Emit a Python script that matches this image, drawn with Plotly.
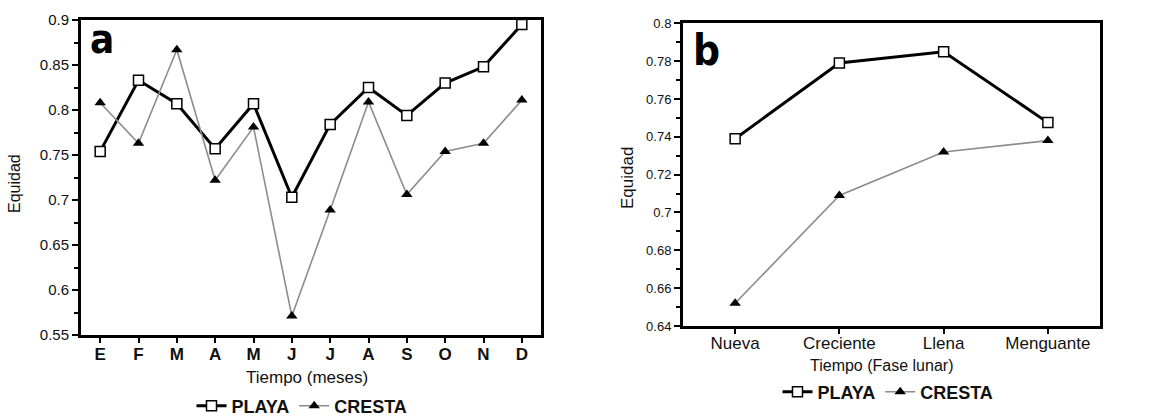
import plotly.graph_objects as go

# ---- data ----
MESES = ["E", "F", "M", "A", "M", "J", "J", "A", "S", "O", "N", "D"]
PLAYA_MES = [0.754, 0.833, 0.807, 0.757, 0.807, 0.703, 0.784, 0.825, 0.794, 0.830, 0.848, 0.895]
CRESTA_MES = [0.808, 0.763, 0.867, 0.722, 0.781, 0.571, 0.689, 0.809, 0.706, 0.754, 0.763, 0.811]

FASES = ["Nueva", "Creciente", "Llena", "Menguante"]
PLAYA_FASE = [0.739, 0.779, 0.785, 0.7475]
CRESTA_FASE = [0.652, 0.709, 0.732, 0.738]

W, H = 1158, 417
FONT = "Liberation Sans, Arial, sans-serif"
NARROW = "DejaVu Sans Condensed, Liberation Sans Narrow, Arial Narrow, sans-serif"


def px_x(x):
    return x / W


def px_y(y):
    return 1 - y / H


fig = go.Figure()

playa_line = dict(color="black", width=3)
playa_marker = dict(symbol="square", size=10, color="white", line=dict(color="black", width=1.5))
cresta_line = dict(color="#8c8c8c", width=1.6)
cresta_marker = dict(symbol="triangle-up", size=10, color="black", line=dict(width=0))

# panel a: monthly
xi = list(range(len(MESES)))
fig.add_trace(go.Scatter(x=xi, y=PLAYA_MES, mode="lines+markers", name="PLAYA",
                         line=playa_line, marker=playa_marker,
                         xaxis="x", yaxis="y", legend="legend"))
fig.add_trace(go.Scatter(x=xi, y=CRESTA_MES, mode="lines+markers", name="CRESTA",
                         line=cresta_line, marker=cresta_marker,
                         xaxis="x", yaxis="y", legend="legend"))

# panel b: lunar phase
xf = list(range(len(FASES)))
fig.add_trace(go.Scatter(x=xf, y=PLAYA_FASE, mode="lines+markers", name="PLAYA",
                         line=playa_line, marker=playa_marker,
                         xaxis="x2", yaxis="y2", legend="legend2"))
fig.add_trace(go.Scatter(x=xf, y=CRESTA_FASE, mode="lines+markers", name="CRESTA",
                         line=cresta_line, marker=cresta_marker,
                         xaxis="x2", yaxis="y2", legend="legend2"))

axis_common = dict(showline=True, linewidth=3, linecolor="black", mirror=True,
                   showgrid=False, zeroline=False, ticks="outside", tickcolor="black",
                   tickwidth=1.5, automargin=False)

legend_common = dict(orientation="h", xanchor="center", yanchor="middle",
                     font=dict(size=18, family=FONT, weight="bold", color="#111111"),
                     bgcolor="rgba(0,0,0,0)", itemwidth=30, tracegroupgap=0)

fig.update_layout(
    width=W, height=H,
    margin=dict(l=0, r=0, t=0, b=0, autoexpand=False),
    paper_bgcolor="white", plot_bgcolor="white",
    font=dict(family=FONT, color="#111111"),
    xaxis=dict(axis_common, domain=[px_x(81), px_x(541)], range=[-0.5, 11.5],
               tickvals=xi, ticktext=MESES, ticklen=5, ticklabelstandoff=-3,
               tickfont=dict(size=17, family=FONT, weight="bold", color="#111111"),
               anchor="y"),
    yaxis=dict(axis_common, domain=[px_y(335), px_y(20)], range=[0.55, 0.9],
               dtick=0.05, tick0=0.55, ticklen=6,
               minor=dict(ticks="outside", ticklen=4, dtick=0.025, tick0=0.55,
                          tickcolor="black", tickwidth=1.5, showgrid=False),
               tickfont=dict(size=15, family=FONT, color="#111111"),
               anchor="x"),
    xaxis2=dict(axis_common, domain=[px_x(683), px_x(1100)], range=[-0.5, 3.5],
                tickvals=xf, ticktext=FASES, ticklen=5, ticklabelstandoff=-5,
                tickfont=dict(size=17, family=FONT, color="#111111"),
                anchor="y2"),
    yaxis2=dict(axis_common, domain=[px_y(326), px_y(23.3)], range=[0.64, 0.8],
                dtick=0.02, tick0=0.64, ticklen=6,
                minor=dict(ticks="outside", ticklen=4, dtick=0.01, tick0=0.64,
                           tickcolor="black", tickwidth=1.5, showgrid=False),
                tickfont=dict(size=13, family=FONT, color="#111111"),
                anchor="x2"),
    legend=dict(legend_common, x=px_x(302), y=px_y(406)),
    legend2=dict(legend_common, x=px_x(888), y=px_y(392)),
    showlegend=True,
)

annotations = [
    # panel letters
    dict(text="<b>a</b>", x=px_x(88), y=px_y(39), xanchor="left", yanchor="middle",
         font=dict(size=40, family=NARROW, color="black")),
    dict(text="<b>b</b>", x=px_x(691), y=px_y(50), xanchor="left", yanchor="middle",
         font=dict(size=42, family=NARROW, color="black")),
    # axis titles
    dict(text="Tiempo (meses)", x=px_x(307), y=px_y(377), xanchor="center", yanchor="middle",
         font=dict(size=17, family=FONT, color="#111111")),
    dict(text="Tiempo (Fase lunar)", x=px_x(881), y=px_y(365), xanchor="center", yanchor="middle",
         font=dict(size=16, family=FONT, color="#111111")),
    dict(text="Equidad", x=px_x(15), y=px_y(184), xanchor="center", yanchor="middle",
         textangle=-90, font=dict(size=16, family=FONT, color="#111111")),
    dict(text="Equidad", x=px_x(627), y=px_y(178), xanchor="center", yanchor="middle",
         textangle=-90, font=dict(size=17, family=FONT, color="#111111")),
]
for a in annotations:
    a.update(xref="paper", yref="paper", showarrow=False)
fig.update_layout(annotations=annotations)

fig.write_html("out.html")
